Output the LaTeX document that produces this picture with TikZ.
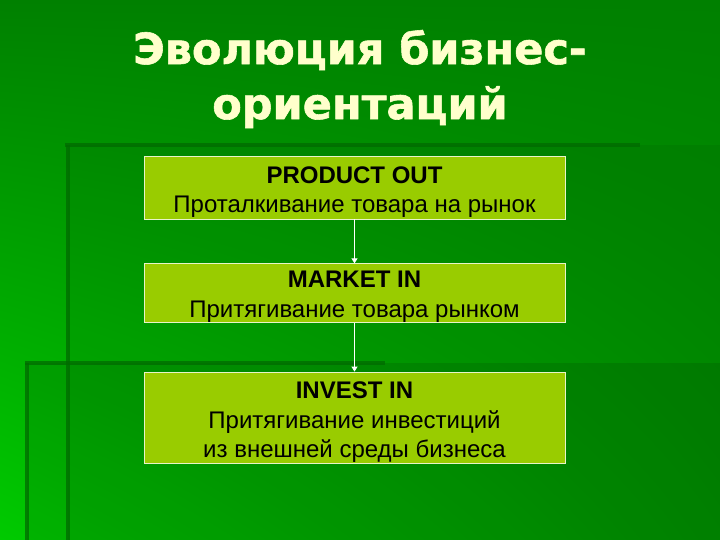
\documentclass[tikz,border=0pt]{standalone}
\usepackage{fontspec}
\setmainfont{Liberation Sans}
\newfontfamily\titlefont{DejaVu Sans}[BoldFeatures={FakeBold=1.3}]
\usetikzlibrary{arrows.meta,shadings}
\definecolor{bgtop}{HTML}{008000}
\definecolor{bgll}{HTML}{00CA00}
\definecolor{bglr}{HTML}{009800}
\definecolor{boxfill}{HTML}{99CC00}
\definecolor{boxline}{HTML}{E8F4C8}
\definecolor{titlecol}{HTML}{FFFFCC}
\definecolor{edge}{HTML}{006A00}
\newcommand{\firstline}{\rule{0pt}{26bp}}
\tikzset{
  stagebox/.style={draw=boxline, line width=0.8bp, fill=boxfill, minimum width=421bp,
    inner sep=0pt, align=center, text=black,
    font=\fontsize{24bp}{29.5bp}\selectfont},
  flow/.style={draw=white, line width=0.9bp, -{Triangle[width=6bp,length=5bp]}},
  panelline/.style={draw=edge, line width=3.5bp, opacity=0.75}
}
\begin{document}
\begin{tikzpicture}[x=1bp,y=-1bp]
\useasboundingbox (0,0) rectangle (720,540);
\shade[upper left=bgtop, upper right=bgtop, lower left=bgll, lower right=bglr] (0,0) rectangle (720,540);
% panels
\fill[black, opacity=0.10] (27,363) rectangle (720,540);
\fill[black, opacity=0.06] (68,145) rectangle (720,540);
\draw[panelline] (65,145) -- (640,145);
\draw[panelline] (68,145) -- (68,540);
\draw[panelline] (25,363) -- (385,363);
\draw[panelline] (27,363) -- (27,540);
% title
\node[text=titlecol, align=center, font=\titlefont\bfseries\fontsize{43bp}{55bp}\selectfont]
  (title) at (360,79) {Эволюция бизнес-\\ориентаций};
% boxes
\node[stagebox, minimum height=63bp] (b1) at (354.5,187.5)
  {\firstline\textbf{PRODUCT OUT}\\Проталкивание товара на рынок};
\node[stagebox, minimum height=58bp] (b2) at (354.5,293)
  {\rule{0pt}{24bp}\textbf{MARKET IN}\\Притягивание товара рынком};
\node[stagebox, minimum height=91bp] (b3) at (354.5,417.5)
  {\firstline\textbf{INVEST IN}\\Притягивание инвестиций\\из внешней среды бизнеса};
\draw[flow] (b1) -- (b2);
\draw[flow] (b2) -- (b3);
\end{tikzpicture}
\end{document}
